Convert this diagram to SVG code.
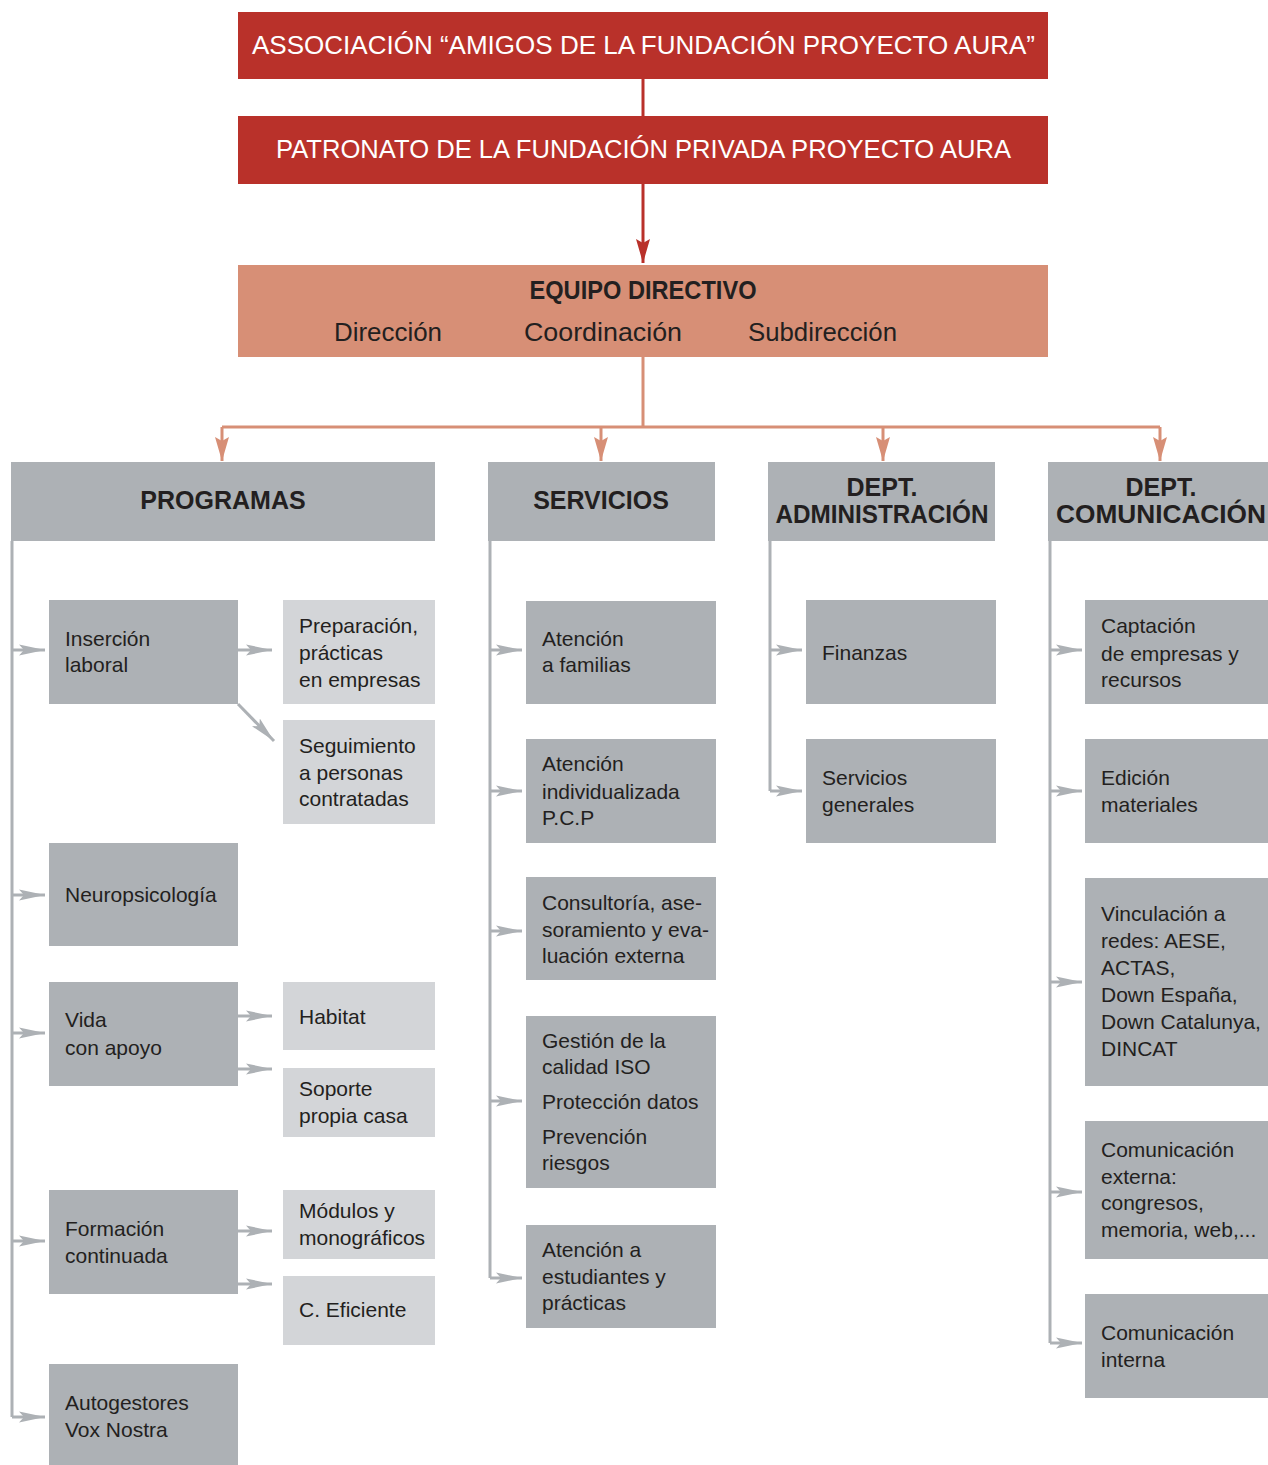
<svg xmlns="http://www.w3.org/2000/svg" width="1268" height="1465" viewBox="0 0 1268 1465">
<defs>
<style>
.red{fill:#b9312a}
.sal{fill:#d78f76}
.g{fill:#adb1b5}
.lg{fill:#d3d5d8}
.t{font-family:"Liberation Sans",Arial,sans-serif;font-size:21px;fill:#231f20}
.tt{font-family:"Liberation Sans",Arial,sans-serif;font-size:25px;fill:#ffffff}
.h{font-family:"Liberation Sans",Arial,sans-serif;font-size:25px;font-weight:bold;fill:#231f20;text-anchor:middle}
.ed{font-family:"Liberation Sans",Arial,sans-serif;font-size:25px;fill:#231f20}
.cg{fill:none;stroke:#adb1b5;stroke-width:3}
.cs{fill:none;stroke:#d78f76;stroke-width:3}
.cr{fill:none;stroke:#b9312a;stroke-width:3}
</style>
<marker id="ag" markerUnits="userSpaceOnUse" viewBox="0 0 26 13" refX="26" refY="6.5" markerWidth="26" markerHeight="13" orient="auto"><path d="M0,1 L26,6.5 L0,12 L5,6.5 Z" fill="#adb1b5"/></marker>
<marker id="as" markerUnits="userSpaceOnUse" viewBox="0 0 24 14" refX="24" refY="7" markerWidth="24" markerHeight="14" orient="auto"><path d="M0,0 L24,7 L0,14 L4,7 Z" fill="#d78f76"/></marker>
<marker id="ar" markerUnits="userSpaceOnUse" viewBox="0 0 24 14" refX="24" refY="7" markerWidth="24" markerHeight="14" orient="auto"><path d="M0,0 L24,7 L0,14 L4,7 Z" fill="#b9312a"/></marker>
</defs>

<g id="connectors">
<path class="cr" d="M643,79 V116"/>
<path class="cr" d="M643,184 V263" marker-end="url(#ar)"/>
<path class="cs" d="M643,357 V427 M222,427 H1160"/>
<path class="cs" d="M222,427 V461" marker-end="url(#as)"/>
<path class="cs" d="M601,427 V461" marker-end="url(#as)"/>
<path class="cs" d="M883,427 V461" marker-end="url(#as)"/>
<path class="cs" d="M1160,427 V461" marker-end="url(#as)"/>

<path class="cg" d="M12,541 V1417"/>
<path class="cg" d="M12,650 H45" marker-end="url(#ag)"/>
<path class="cg" d="M12,895 H45" marker-end="url(#ag)"/>
<path class="cg" d="M12,1033 H45" marker-end="url(#ag)"/>
<path class="cg" d="M12,1241 H45" marker-end="url(#ag)"/>
<path class="cg" d="M12,1417 H45" marker-end="url(#ag)"/>
<path class="cg" d="M238,650 H272" marker-end="url(#ag)"/>
<path class="cg" d="M238,704 L274,741" marker-end="url(#ag)"/>
<path class="cg" d="M238,1016 H272" marker-end="url(#ag)"/>
<path class="cg" d="M238,1069 H272" marker-end="url(#ag)"/>
<path class="cg" d="M238,1231 H272" marker-end="url(#ag)"/>
<path class="cg" d="M238,1284 H272" marker-end="url(#ag)"/>

<path class="cg" d="M490,541 V1278"/>
<path class="cg" d="M490,650 H522" marker-end="url(#ag)"/>
<path class="cg" d="M490,791 H522" marker-end="url(#ag)"/>
<path class="cg" d="M490,931 H522" marker-end="url(#ag)"/>
<path class="cg" d="M490,1101 H522" marker-end="url(#ag)"/>
<path class="cg" d="M490,1278 H522" marker-end="url(#ag)"/>

<path class="cg" d="M770,541 V791"/>
<path class="cg" d="M770,650 H802" marker-end="url(#ag)"/>
<path class="cg" d="M770,791 H802" marker-end="url(#ag)"/>

<path class="cg" d="M1050,541 V1343"/>
<path class="cg" d="M1050,650 H1082" marker-end="url(#ag)"/>
<path class="cg" d="M1050,791 H1082" marker-end="url(#ag)"/>
<path class="cg" d="M1050,982 H1082" marker-end="url(#ag)"/>
<path class="cg" d="M1050,1192 H1082" marker-end="url(#ag)"/>
<path class="cg" d="M1050,1343 H1082" marker-end="url(#ag)"/>
</g>

<g id="asociacion"><rect class="red" x="238" y="12" width="810" height="67"/>
<text class="tt" x="252" y="54" textLength="783" lengthAdjust="spacingAndGlyphs">ASSOCIACIÓN “AMIGOS DE LA FUNDACIÓN PROYECTO AURA”</text></g>
<g id="patronato"><rect class="red" x="238" y="116" width="810" height="68"/>
<text class="tt" x="276" y="158" textLength="735" lengthAdjust="spacingAndGlyphs">PATRONATO DE LA FUNDACIÓN PRIVADA PROYECTO AURA</text></g>
<g id="equipo"><rect class="sal" x="238" y="265" width="810" height="92"/>
<text class="h" x="643" y="299" textLength="227" lengthAdjust="spacingAndGlyphs">EQUIPO DIRECTIVO</text>
<text class="ed" x="334" y="341" textLength="108" lengthAdjust="spacingAndGlyphs">Dirección</text>
<text class="ed" x="524" y="341" textLength="158" lengthAdjust="spacingAndGlyphs">Coordinación</text>
<text class="ed" x="748" y="341" textLength="149" lengthAdjust="spacingAndGlyphs">Subdirección</text></g>

<g id="programas"><rect class="g" x="11" y="462" width="424" height="79"/><text class="h" x="223" y="509">PROGRAMAS</text></g>
<g id="servicios"><rect class="g" x="488" y="462" width="227" height="79"/><text class="h" x="601" y="509">SERVICIOS</text></g>
<g id="administracion"><rect class="g" x="768" y="462" width="227" height="79"/><text class="h" x="882" y="496">DEPT.</text><text class="h" x="882" y="523" textLength="213" lengthAdjust="spacingAndGlyphs">ADMINISTRACIÓN</text></g>
<g id="comunicacion"><rect class="g" x="1048" y="462" width="220" height="79"/><text class="h" x="1161" y="496">DEPT.</text><text class="h" x="1161" y="523" textLength="210" lengthAdjust="spacingAndGlyphs">COMUNICACIÓN</text></g>

<g id="insercion"><rect class="g" x="49" y="600" width="189" height="104"/><text class="t" x="65" y="646">Inserción</text><text class="t" x="65" y="672">laboral</text></g>
<g id="preparacion"><rect class="lg" x="283" y="600" width="152" height="104"/><text class="t" x="299" y="633">Preparación,</text><text class="t" x="299" y="660">prácticas</text><text class="t" x="299" y="687">en empresas</text></g>
<g id="seguimiento"><rect class="lg" x="283" y="720" width="152" height="104"/><text class="t" x="299" y="753">Seguimiento</text><text class="t" x="299" y="780">a personas</text><text class="t" x="299" y="806">contratadas</text></g>
<g id="neuropsicologia"><rect class="g" x="49" y="843" width="189" height="103"/><text class="t" x="65" y="902">Neuropsicología</text></g>
<g id="vida"><rect class="g" x="49" y="982" width="189" height="104"/><text class="t" x="65" y="1027">Vida</text><text class="t" x="65" y="1055">con apoyo</text></g>
<g id="habitat"><rect class="lg" x="283" y="982" width="152" height="68"/><text class="t" x="299" y="1024">Habitat</text></g>
<g id="soporte"><rect class="lg" x="283" y="1068" width="152" height="69"/><text class="t" x="299" y="1096">Soporte</text><text class="t" x="299" y="1123">propia casa</text></g>
<g id="formacion"><rect class="g" x="49" y="1190" width="189" height="104"/><text class="t" x="65" y="1236">Formación</text><text class="t" x="65" y="1263">continuada</text></g>
<g id="modulos"><rect class="lg" x="283" y="1190" width="152" height="69"/><text class="t" x="299" y="1218">Módulos y</text><text class="t" x="299" y="1245">monográficos</text></g>
<g id="eficiente"><rect class="lg" x="283" y="1276" width="152" height="69"/><text class="t" x="299" y="1317">C. Eficiente</text></g>
<g id="autogestores"><rect class="g" x="49" y="1364" width="189" height="101"/><text class="t" x="65" y="1410">Autogestores</text><text class="t" x="65" y="1437">Vox Nostra</text></g>

<g id="familias"><rect class="g" x="526" y="601" width="190" height="103"/><text class="t" x="542" y="646">Atención</text><text class="t" x="542" y="672">a familias</text></g>
<g id="individualizada"><rect class="g" x="526" y="739" width="190" height="104"/><text class="t" x="542" y="771">Atención</text><text class="t" x="542" y="799">individualizada</text><text class="t" x="542" y="825">P.C.P</text></g>
<g id="consultoria"><rect class="g" x="526" y="877" width="190" height="103"/><text class="t" x="542" y="910">Consultoría, ase-</text><text class="t" x="542" y="937">soramiento y eva-</text><text class="t" x="542" y="963">luación externa</text></g>
<g id="gestion"><rect class="g" x="526" y="1016" width="190" height="172"/><text class="t" x="542" y="1048">Gestión de la</text><text class="t" x="542" y="1074">calidad ISO</text><text class="t" x="542" y="1109">Protección datos</text><text class="t" x="542" y="1144">Prevención</text><text class="t" x="542" y="1170">riesgos</text></g>
<g id="estudiantes"><rect class="g" x="526" y="1225" width="190" height="103"/><text class="t" x="542" y="1257">Atención a</text><text class="t" x="542" y="1284">estudiantes y</text><text class="t" x="542" y="1310">prácticas</text></g>

<g id="finanzas"><rect class="g" x="806" y="600" width="190" height="104"/><text class="t" x="822" y="660">Finanzas</text></g>
<g id="serviciosgenerales"><rect class="g" x="806" y="739" width="190" height="104"/><text class="t" x="822" y="785">Servicios</text><text class="t" x="822" y="812">generales</text></g>

<g id="captacion"><rect class="g" x="1085" y="600" width="183" height="104"/><text class="t" x="1101" y="633">Captación</text><text class="t" x="1101" y="661">de empresas y</text><text class="t" x="1101" y="687">recursos</text></g>
<g id="edicion"><rect class="g" x="1085" y="739" width="183" height="104"/><text class="t" x="1101" y="785">Edición</text><text class="t" x="1101" y="812">materiales</text></g>
<g id="vinculacion"><rect class="g" x="1085" y="878" width="183" height="208"/><text class="t" x="1101" y="921">Vinculación a</text><text class="t" x="1101" y="948">redes: AESE,</text><text class="t" x="1101" y="975">ACTAS,</text><text class="t" x="1101" y="1002">Down España,</text><text class="t" x="1101" y="1029">Down Catalunya,</text><text class="t" x="1101" y="1056">DINCAT</text></g>
<g id="externa"><rect class="g" x="1085" y="1121" width="183" height="138"/><text class="t" x="1101" y="1157">Comunicación</text><text class="t" x="1101" y="1184">externa:</text><text class="t" x="1101" y="1210">congresos,</text><text class="t" x="1101" y="1237">memoria, web,...</text></g>
<g id="interna"><rect class="g" x="1085" y="1294" width="183" height="104"/><text class="t" x="1101" y="1340">Comunicación</text><text class="t" x="1101" y="1367">interna</text></g>
</svg>
